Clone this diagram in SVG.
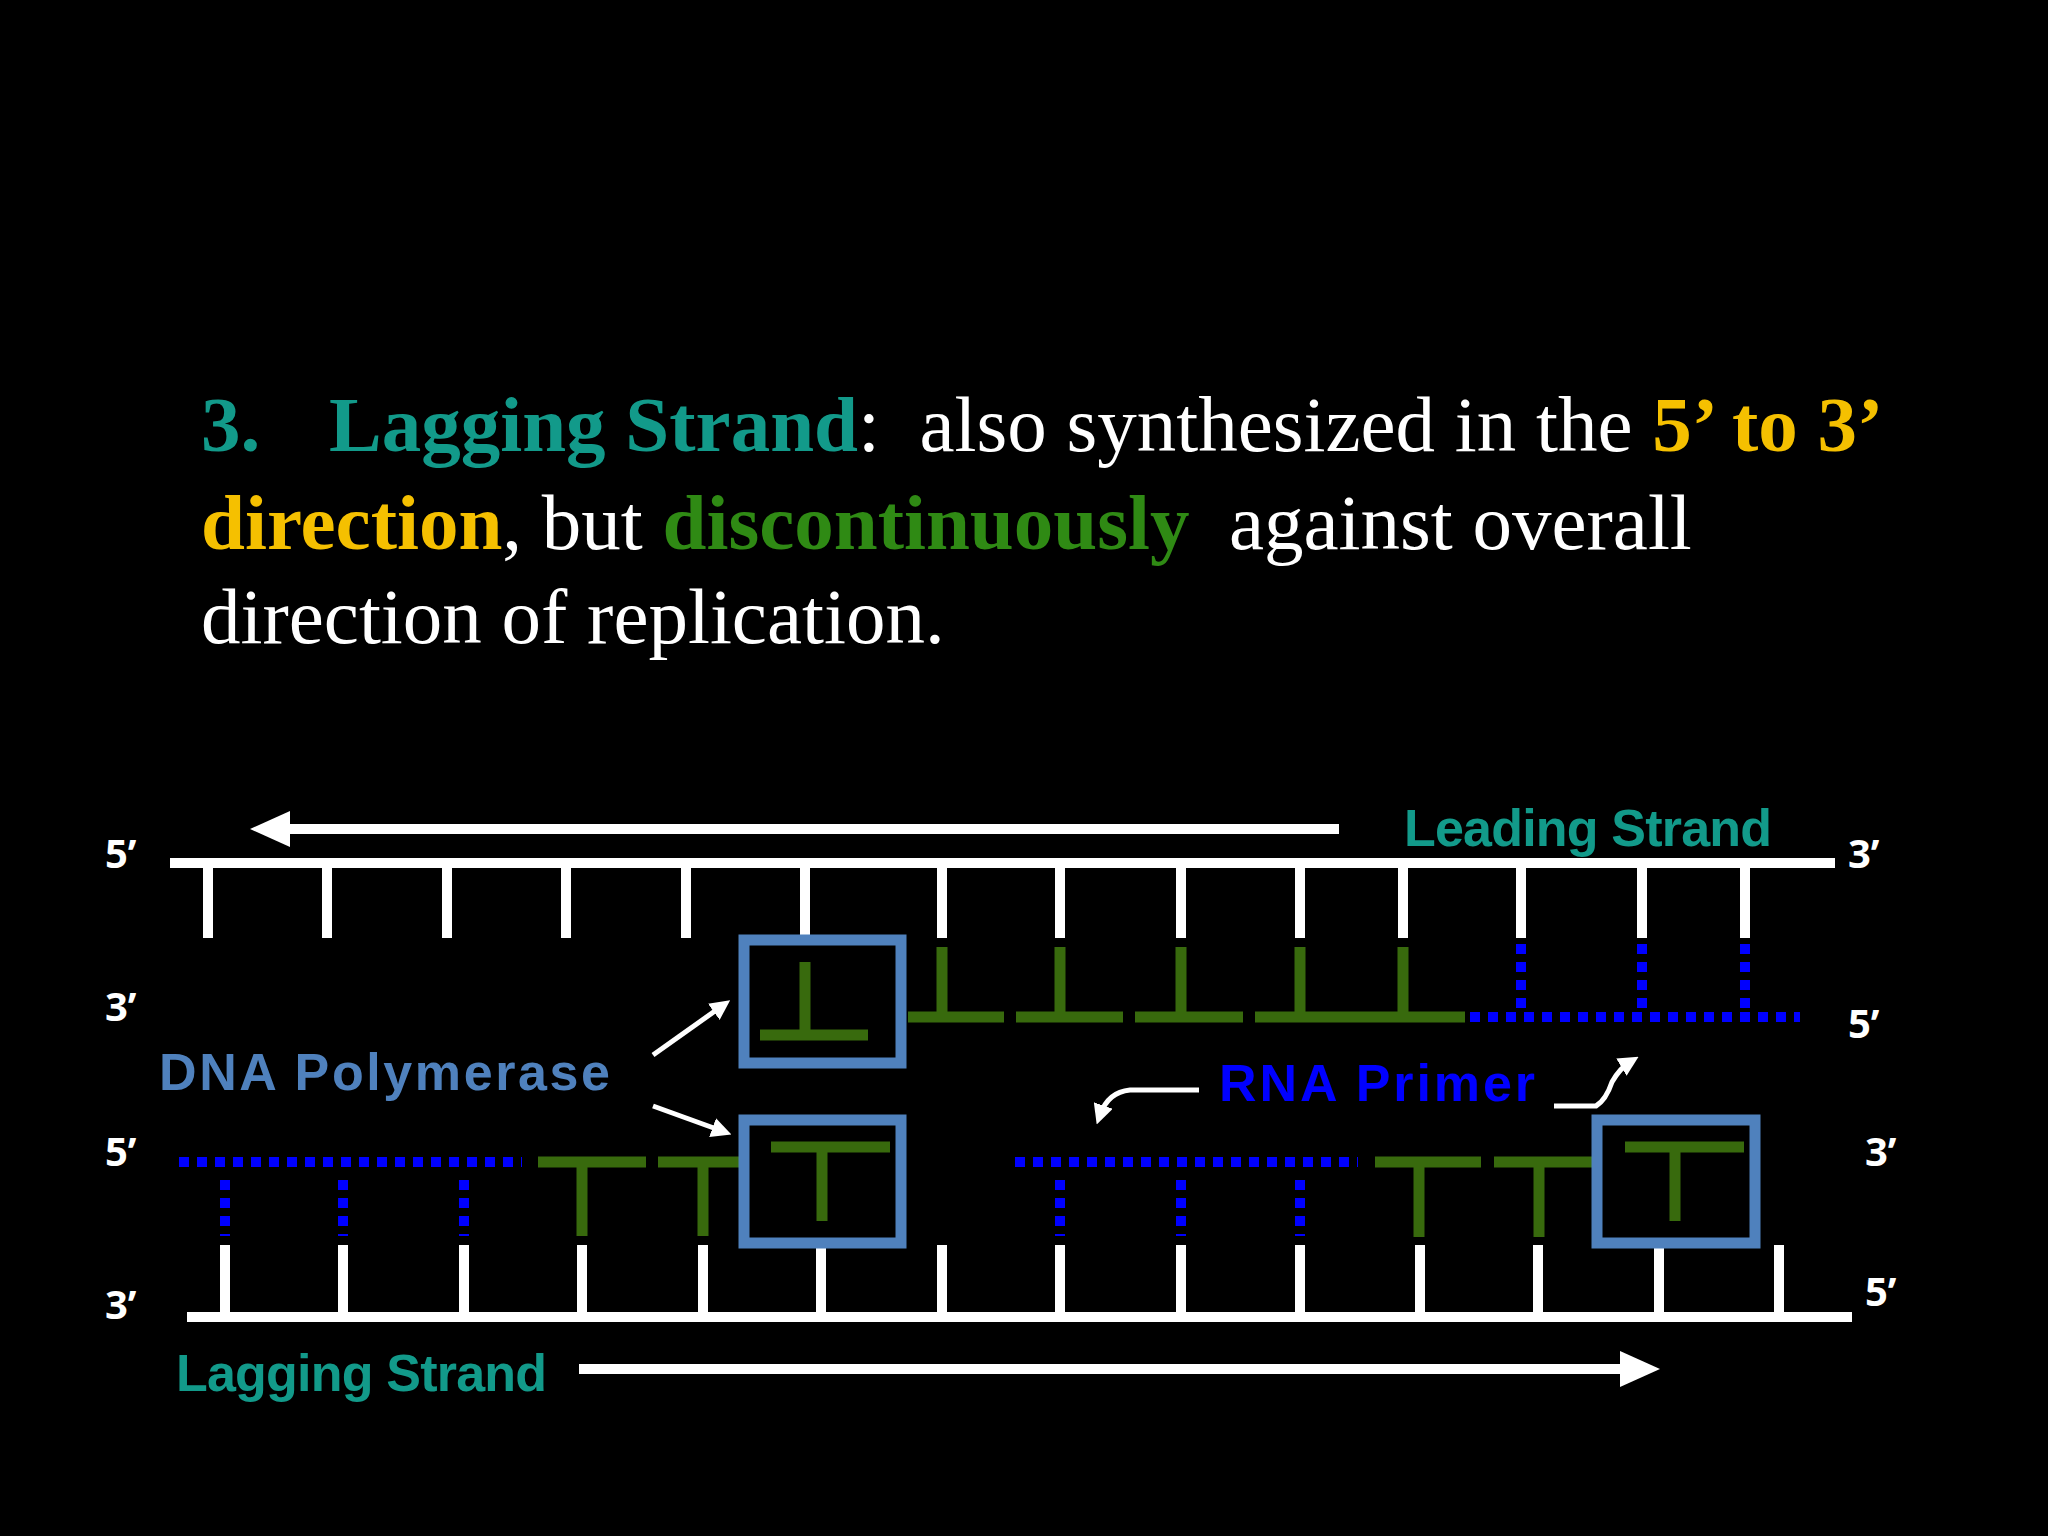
<svg xmlns="http://www.w3.org/2000/svg" width="2048" height="1536" viewBox="0 0 2048 1536">
<style>
.w{stroke:#fff;stroke-width:10;fill:none}
.g{stroke:#386a0d;stroke-width:11;fill:none}
.b{stroke:#0000ff;stroke-width:10;fill:none;stroke-dasharray:10 8}
.box{stroke:#4f81bd;stroke-width:11;fill:none}
.p{font-family:"Open Sans","Liberation Sans",sans-serif;font-weight:bold;font-size:40px;fill:#fff}
.lab{font-family:"Liberation Sans Narrow","Liberation Sans",sans-serif;font-weight:bold;font-size:52px}
.t{font-family:"Liberation Serif","Times New Roman",serif;font-size:79px;fill:#fff}
</style>
<defs>
<marker id="ah" markerWidth="4" markerHeight="4" refX="2" refY="2" orient="auto" markerUnits="strokeWidth"><path d="M0,0.2 L4,2 L0,3.8 z" fill="#fff"/></marker>
<marker id="ahs" markerWidth="4" markerHeight="4" refX="2" refY="2" orient="auto" markerUnits="strokeWidth"><path d="M0,0 L4,2 L0,4 z" fill="#fff"/></marker>
</defs>
<rect width="2048" height="1536" fill="#000"/>
<g id="title">
<text class="t" x="201" y="451"><tspan font-weight="bold" fill="#129a8a">3.</tspan><tspan x="329" font-weight="bold" fill="#129a8a">Lagging Strand</tspan>:&#160; also synthesized in the <tspan font-weight="bold" fill="#f5c000">5’ to 3’</tspan></text>
<text class="t" x="201" y="549"><tspan font-weight="bold" fill="#f5c000">direction</tspan>, but <tspan font-weight="bold" fill="#2f8a14">discontinuously</tspan>&#160; against overall</text>
<text class="t" x="201" y="643">direction of replication.</text>
</g>
<g id="top-strand">
<path class="w" d="M170,863 H1835 M208,863V938 M327,863V938 M447,863V938 M566,863V938 M686,863V938 M805,863V938 M942,863V938 M1060,863V938 M1181,863V938 M1300,863V938 M1403,863V938 M1521,863V938 M1642,863V938 M1745,863V938"/>
</g>
<g id="upper-new">
<path class="g" d="M908,1017H1004 M1016,1017H1123 M1135,1017H1243 M1255,1017H1465 M942,947V1017 M1060,947V1017 M1181,947V1017 M1300,947V1017 M1403,947V1017"/>
<path class="b" d="M1470,1017H1800 M1521,944V1010 M1642,944V1010 M1745,944V1010"/>
</g>
<g id="bottom-strand">
<path class="w" d="M187,1317 H1852 M225,1245V1317 M343,1245V1317 M464,1245V1317 M582,1245V1317 M703,1245V1317 M821,1245V1317 M942,1245V1317 M1060,1245V1317 M1181,1245V1317 M1300,1245V1317 M1420,1245V1317 M1538,1245V1317 M1659,1245V1317 M1779,1245V1317"/>
</g>
<g id="lower-new">
<path class="b" d="M179,1162H522 M225,1180V1236 M343,1180V1236 M464,1180V1236 M1015,1162H1358 M1060,1180V1236 M1181,1180V1236 M1300,1180V1236"/>
<path class="g" d="M538,1162H646 M658,1162H740 M582,1162V1236 M703,1162V1236 M1375,1162H1481 M1494,1162H1592 M1419,1162V1237 M1539,1162V1237"/>
</g>
<g id="pol1"><rect class="box" x="744" y="940" width="157" height="123"/><path class="g" d="M805,962V1035 M760,1035H868"/></g>
<g id="pol2"><rect class="box" x="744" y="1120" width="157" height="123"/><path class="g" d="M771,1147H890 M822,1147V1221"/></g>
<g id="pol3"><rect class="box" x="1597" y="1120" width="158" height="123"/><path class="g" d="M1625,1147H1744 M1675,1147V1221"/></g>
<g id="connectors">
<path class="w" d="M1339,829H270" marker-end="url(#ah)"/>
<path class="w" d="M579,1369H1640" marker-end="url(#ah)"/>
<path stroke="#fff" stroke-width="5" fill="none" d="M653,1055L722,1006" marker-end="url(#ahs)"/>
<path stroke="#fff" stroke-width="5" fill="none" d="M653,1106L722,1131" marker-end="url(#ahs)"/>
<path stroke="#fff" stroke-width="5" fill="none" d="M1199,1090H1130Q1108,1092 1100,1115" marker-end="url(#ahs)"/>
<path stroke="#fff" stroke-width="5" fill="none" d="M1554,1106H1596Q1606,1100 1612,1082Q1620,1068 1630,1062" marker-end="url(#ahs)"/>
</g>
<g id="labels">
<text class="lab" x="1404" y="846" fill="#129a8a" textLength="368">Leading Strand</text>
<text class="lab" x="176" y="1391" fill="#129a8a" textLength="371">Lagging Strand</text>
<text class="lab" x="159" y="1090" fill="#4f81bd" textLength="451">DNA Polymerase</text>
<text class="lab" x="1219" y="1101" fill="#0000ff" textLength="316">RNA Primer</text>
<text class="p" x="105" y="868">5’</text>
<text class="p" x="105" y="1021">3’</text>
<text class="p" x="105" y="1166">5’</text>
<text class="p" x="105" y="1319">3’</text>
<text class="p" x="1848" y="868">3’</text>
<text class="p" x="1848" y="1038">5’</text>
<text class="p" x="1865" y="1166">3’</text>
<text class="p" x="1865" y="1306">5’</text>
</g>
</svg>
